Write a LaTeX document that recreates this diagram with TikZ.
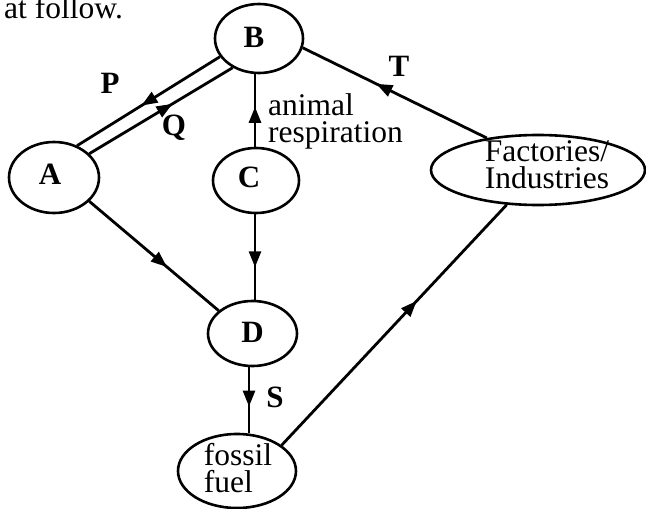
\documentclass[tikz,border=0pt]{standalone}
\usepackage{fontspec}
\setmainfont{Liberation Serif}
\usetikzlibrary{shapes.geometric,arrows.meta,decorations.markings}
\begin{document}
\begin{tikzpicture}[x=1pt,y=-1pt,
  txt/.style={font=\fontsize{31.5}{27}\selectfont, inner sep=0pt},
  lbl/.style={font=\fontsize{31}{27}\selectfont\bfseries, inner sep=0pt},
  ell/.style={draw, ellipse, line width=2.6pt, inner sep=0pt},
  conn/.style={line width=2.8pt},
  midarrow/.style={conn, postaction={decorate},
    decoration={markings, mark=at position #1 with {\arrow{Triangle[length=16pt,width=12pt]}}}}
]
\useasboundingbox (0,0) rectangle (646,509);

% top text fragment
\node[txt, anchor=base west] (top) at (4,18) {at follow.};

% nodes
\node[ell, minimum width=88pt, minimum height=69pt,
  label={[lbl, xshift=-5pt, yshift=1.5pt]center:B}] (B) at (259,38.5) {};
\node[ell, minimum width=90pt, minimum height=71pt,
  label={[lbl, xshift=-4pt, yshift=3.5pt]center:A}] (A) at (54,177.5) {};
\node[ell, minimum width=86pt, minimum height=65pt,
  label={[lbl, xshift=-7pt, yshift=3pt]center:C}] (C) at (256,180.5) {};
\node[ell, minimum width=89pt, minimum height=65pt,
  label={[lbl, xshift=0pt, yshift=1.5pt]center:D}] (D) at (252.5,333.5) {};
\node[ell, minimum width=118pt, minimum height=74pt,
  label={[txt, align=left, xshift=1pt, yshift=3pt]center:fossil\\fuel}] (fossil) at (237,471) {};
\node[ell, minimum width=214pt, minimum height=70pt,
  label={[txt, align=left, xshift=9pt, yshift=5pt]center:Factories/\\Industries}] (F) at (538,170) {};

% texts
\node[txt, anchor=west, align=left] (resp) at (268,121) {animal\\respiration};
\node[lbl] (P) at (110,83) {P};
\node[lbl] (Q) at (174,128) {Q};
\node[lbl] (T) at (399,66) {T};
\node[lbl] (S) at (275,397) {S};

% connectors
\draw[midarrow=0.55] (B.205) -- (A.54);
\draw[midarrow=0.58] (A.34) -- (B.228);
\draw[midarrow=0.55] (C.north -| 255,0) -- (B.south -| 255,0);
\draw[midarrow=0.62] (C.south -| 255,0) -- (D.north -| 255,0);
\draw[midarrow=0.6] (A.-34) -- (D.146);
\draw[midarrow=0.6] (D.south -| 249,0) -- (fossil.north -| 249,0);
\draw[midarrow=0.6] (fossil.30) -- (F.228);
\draw[midarrow=0.6] (F.148) -- (B.-12);
\end{tikzpicture}
\end{document}
